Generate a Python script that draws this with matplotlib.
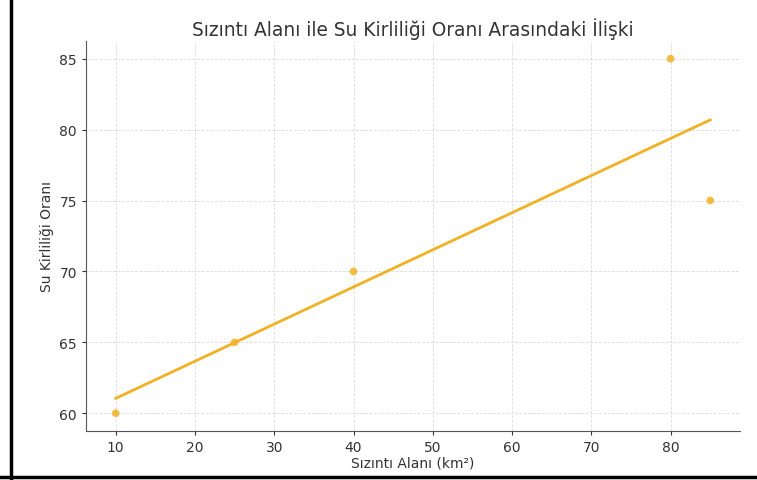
import numpy as np
import matplotlib
matplotlib.use("Agg")
import matplotlib.pyplot as plt
from matplotlib.lines import Line2D

# veriler
sizinti_alani = [10, 25, 40, 80, 85]
kirlilik_orani = [60, 65, 70, 85, 75]

renk = "#f2b124"
yazi = "#333333"

fig = plt.figure(figsize=(7.57, 4.81), dpi=100)
ax = fig.add_axes([0.1136, 0.1019, 0.8639, 0.8108])

ax.scatter(sizinti_alani, kirlilik_orani, color=renk, s=30, alpha=0.85, zorder=3, edgecolors="none")

# dogrusal regresyon
egim, kesim = np.polyfit(sizinti_alani, kirlilik_orani, 1)
xs = np.array([min(sizinti_alani), max(sizinti_alani)])
ax.plot(xs, egim * xs + kesim, color=renk, linewidth=2, zorder=2)

ax.set_title("Sızıntı Alanı ile Su Kirliliği Oranı Arasındaki İlişki", fontsize=13.4, color=yazi, pad=4)
ax.set_xlabel("Sızıntı Alanı (km²)", fontsize=10, color=yazi, labelpad=1)
ax.set_ylabel("Su Kirliliği Oranı", fontsize=10, color=yazi)

ax.set_yticks([60, 65, 70, 75, 80, 85])
ax.set_xticks([10, 20, 30, 40, 50, 60, 70, 80])
ax.grid(True, linestyle="--", linewidth=0.6, color="#dcdcdc")
ax.set_axisbelow(True)
for s in ["top", "right"]:
    ax.spines[s].set_visible(False)
for s in ["left", "bottom"]:
    ax.spines[s].set_color("#555555")
ax.tick_params(colors=yazi, labelsize=10, length=3)

# ekran goruntusu cercevesi
fig.add_artist(Line2D([11 / 757, 11 / 757], [0, 1], transform=fig.transFigure, color="black", linewidth=2.5))
fig.add_artist(Line2D([0, 1], [3 / 481, 3 / 481], transform=fig.transFigure, color="black", linewidth=2.5))

fig.savefig("out.png", dpi=100)
